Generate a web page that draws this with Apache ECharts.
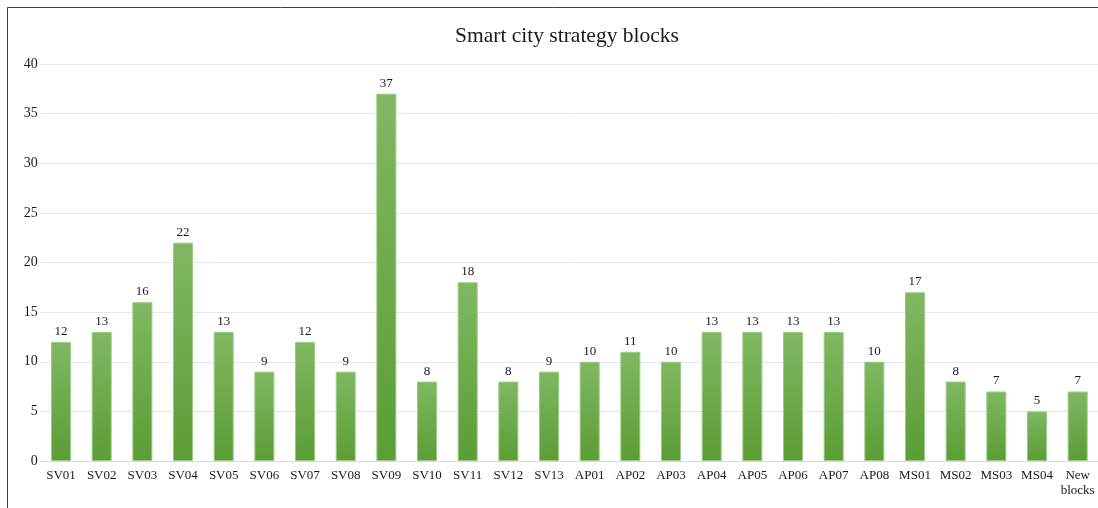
<!DOCTYPE html>
<html><head><meta charset="utf-8">
<script src="https://cdn.jsdelivr.net/npm/echarts@6/dist/echarts.min.js"></script>
<style>html,body{margin:0;padding:0;background:#fff}#c{width:1098px;height:508px}</style>
</head><body><div id="c"></div>
<script>
const categories = ['SV01','SV02','SV03','SV04','SV05','SV06','SV07','SV08','SV09','SV10','SV11','SV12','SV13','AP01','AP02','AP03','AP04','AP05','AP06','AP07','AP08','MS01','MS02','MS03','MS04','New\nblocks'];
const values = [12,13,16,22,13,9,12,9,37,8,18,8,9,10,11,10,13,13,13,13,10,17,8,7,5,7];
const yTicks = {min:0, max:40, interval:5};
const titleText = 'Smart city strategy blocks';

const font = '"Liberation Serif","Times New Roman",serif';
const chart = echarts.init(document.getElementById('c'));
chart.setOption({
  animation:false,
  graphic:[{type:'rect',shape:{x:7.5,y:7.5,width:1200,height:700},style:{fill:'none',stroke:'#404040',lineWidth:1},silent:true}],
  title:{text:titleText,left:450,top:20,textStyle:{fontFamily:font,fontSize:21.5,fontWeight:'normal',color:'#1a1a1a'}},
  grid:{left:40.7,right:0,top:64,bottom:47,containLabel:false},
  xAxis:{type:'category',data:categories,
    axisLine:{lineStyle:{color:'#d9d9d9'}},axisTick:{show:false},
    axisLabel:{interval:0,fontFamily:font,fontSize:13,color:'#1a1a1a',margin:7,lineHeight:15}},
  yAxis:{type:'value',min:yTicks.min,max:yTicks.max,interval:yTicks.interval,
    axisLine:{show:false},axisTick:{show:false},
    splitLine:{lineStyle:{color:'#e3e6ee'}},
    axisLabel:{fontFamily:font,fontSize:14,color:'#1a1a1a',margin:3}},
  series:[{type:'bar',data:values,barWidth:20,
    itemStyle:{color:new echarts.graphic.LinearGradient(0,0,0,1,[{offset:0,color:'#80b862'},{offset:1,color:'#5b9d35'}]),borderColor:'#9ccc84',borderWidth:1},
    label:{show:true,position:'top',distance:4,fontFamily:font,fontSize:13,color:'#1a1a1a'}}]
});
</script></body></html>
